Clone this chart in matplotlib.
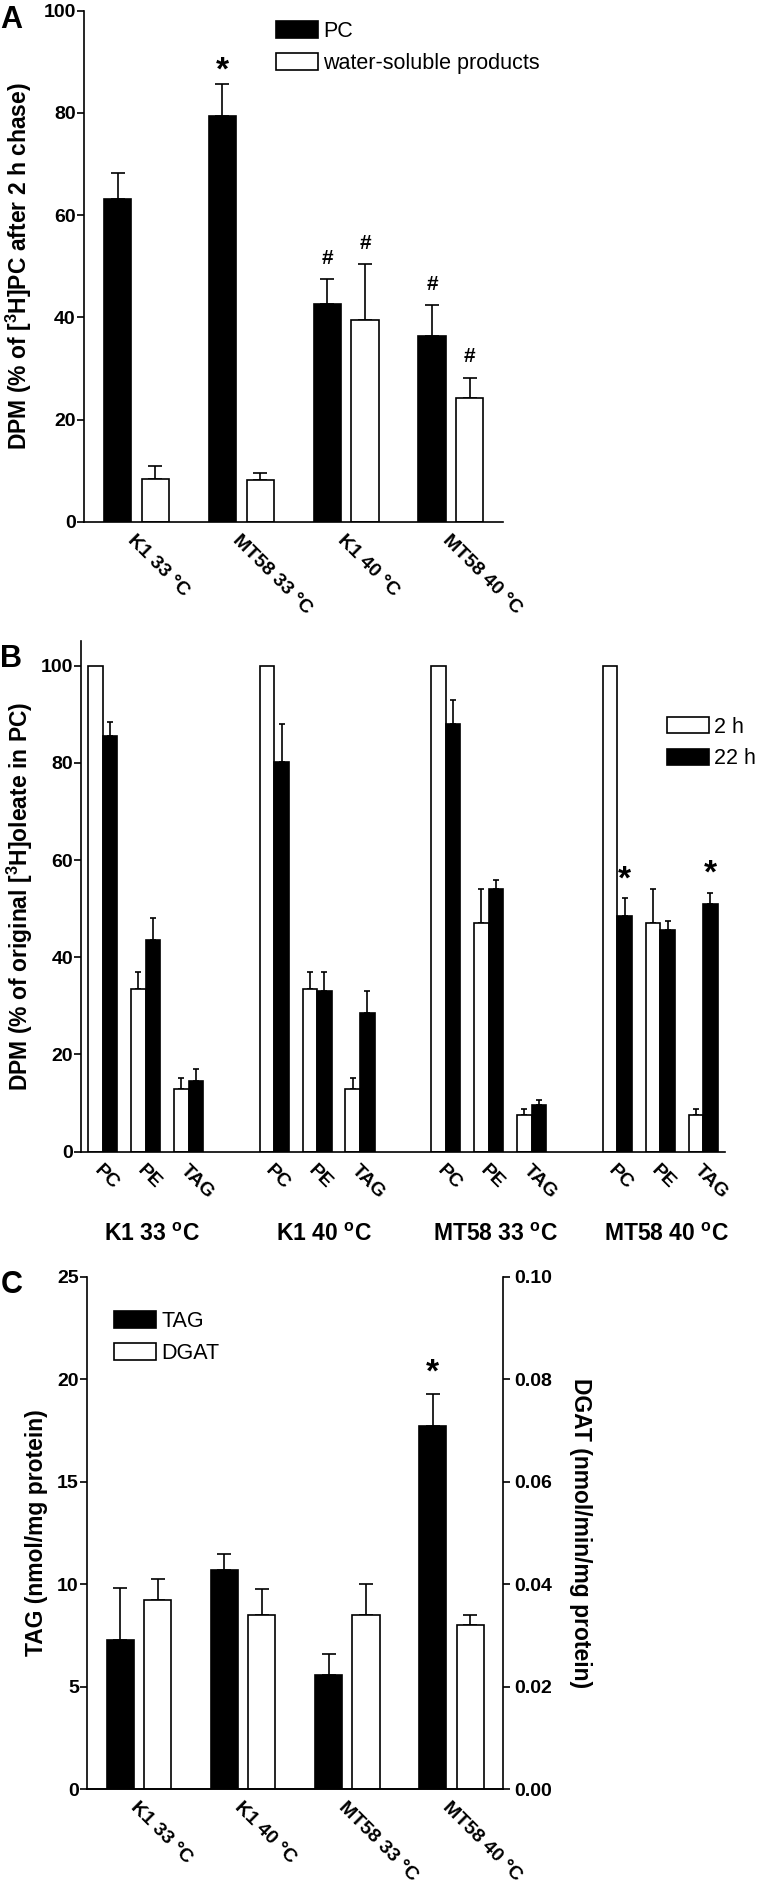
import numpy as np
import matplotlib.pyplot as plt

plt.rcParams['font.family'] = ['Liberation Sans', 'DejaVu Sans']
plt.rcParams['font.weight'] = 'bold'
plt.rcParams['axes.labelweight'] = 'bold'
plt.rcParams['mathtext.fontset'] = 'custom'
plt.rcParams['mathtext.rm'] = 'Liberation Sans:bold'
plt.rcParams['mathtext.bf'] = 'Liberation Sans:bold'
plt.rcParams['axes.linewidth'] = 1.2

# panel A: fate of labelled PC
groups_a = ['K1 33 °C', 'MT58 33 °C', 'K1 40 °C', 'MT58 40 °C']
pc_a = [63.2, 79.4, 42.6, 36.3]
pc_a_err = [5.0, 6.2, 4.9, 6.1]
ws_a = [8.4, 8.3, 39.6, 24.3]
ws_a_err = [2.6, 1.2, 10.8, 3.9]
marks_a = [('*', 'pc', 1), ('#', 'pc', 2), ('#', 'ws', 2), ('#', 'pc', 3), ('#', 'ws', 3)]

# panel B: oleate redistribution, groups x lipids (PC, PE, TAG)
groups_b = ['K1 33 $^{\\mathrm{o}}$C', 'K1 40 $^{\\mathrm{o}}$C',
            'MT58 33 $^{\\mathrm{o}}$C', 'MT58 40 $^{\\mathrm{o}}$C']
lipids_b = ['PC', 'PE', 'TAG']
h2_b = [100, 33.5, 13.0, 100, 33.5, 13.0, 100, 47.1, 7.5, 100, 47.1, 7.5]
h2_b_err = [0, 3.5, 2.1, 0, 3.5, 2.1, 0, 7.0, 1.2, 0, 7.0, 1.2]
h22_b = [85.5, 43.6, 14.6, 80.1, 33.1, 28.6, 88.0, 54.0, 9.6, 48.6, 45.6, 51.0]
h22_b_err = [3.0, 4.4, 2.4, 7.9, 3.9, 4.5, 4.9, 2.0, 1.0, 3.5, 1.9, 2.2]
stars_b = [9, 11]

# panel C: TAG mass and DGAT activity
groups_c = ['K1 33 °C', 'K1 40 °C', 'MT58 33 °C', 'MT58 40 °C']
tag_c = [7.3, 10.7, 5.6, 17.7]
tag_c_err = [2.5, 0.8, 1.0, 1.6]
dgat_c = [0.037, 0.034, 0.034, 0.032]
dgat_c_err = [0.004, 0.005, 0.006, 0.002]
stars_c = [3]

W, H = 759, 1886


def frame(x0, top, x1, bottom):
    return [x0 / W, 1 - bottom / H, (x1 - x0) / W, (bottom - top) / H]


def style_axis(ax):
    ax.spines['top'].set_visible(False)
    ax.spines['right'].set_visible(False)
    ax.tick_params(axis='y', direction='out', length=5, width=1.2, pad=1, labelsize=14)
    ax.tick_params(axis='x', length=0, pad=7, labelsize=14)


leg_kw = dict(frameon=False, borderpad=0, borderaxespad=0, handlelength=1.95,
              handleheight=0.8, handletextpad=0.25, labelspacing=0.5,
              prop={'size': 15.5, 'weight': 'normal'}, loc='upper left')

fig = plt.figure(figsize=(W / 100, H / 100), dpi=100)

# ---------- A ----------
axA = fig.add_axes(frame(84, 10.7, 503.4, 522))
x = np.arange(len(groups_a))
off, bw = 0.18, 0.26
axA.bar(x - off, pc_a, bw, color='black', edgecolor='black', lw=1.2, label='PC', zorder=2)
axA.bar(x + off, ws_a, bw, color='white', edgecolor='black', lw=1.2,
        label='water-soluble products', zorder=2)
axA.errorbar(x - off, pc_a, yerr=[np.zeros(4), pc_a_err], fmt='none', ecolor='black',
             elinewidth=1.2, capsize=4.7, capthick=1.2, zorder=1)
axA.errorbar(x + off, ws_a, yerr=[np.zeros(4), ws_a_err], fmt='none', ecolor='black',
             elinewidth=1.2, capsize=4.7, capthick=1.2, zorder=1)
for sym, ser, g in marks_a:
    if ser == 'pc':
        xp, top = g - off, pc_a[g] + pc_a_err[g]
    else:
        xp, top = g + off, ws_a[g] + ws_a_err[g]
    if sym == '*':
        axA.annotate(sym, (xp, top), xytext=(0, 9.5), textcoords='offset points',
                     ha='center', va='center', fontsize=24)
    else:
        axA.annotate(sym, (xp, top), xytext=(0, 15), textcoords='offset points',
                     ha='center', va='center', fontsize=15)
axA.set_xlim(-0.5, 3.5)
axA.set_ylim(0, 100)
axA.set_yticks(np.arange(0, 101, 20))
axA.set_xticks(x)
axA.set_xticklabels(groups_a, rotation=-45, ha='left', va='top', rotation_mode='anchor')
style_axis(axA)
axA.set_ylabel('DPM (% of [$^{3}$H]PC after 2 h chase)', fontsize=16.5)
axA.yaxis.set_label_coords(-0.119, 0.5)
axA.legend(bbox_to_anchor=(275.9 / W, 1 - 21 / H), bbox_transform=fig.transFigure, **leg_kw)

# ---------- B ----------
axB = fig.add_axes(frame(81.3, 1151.7 - 105 * 4.86, 724.6, 1151.7))
pos = np.array([4 * g + i for g in range(len(groups_b)) for i in range(len(lipids_b))])
ob, wb = 0.17, 0.34
h2 = np.array(h2_b)
h2e = np.array(h2_b_err)
axB.bar(pos - ob, h2_b, wb, color='white', edgecolor='black', lw=1.2, label='2 h', zorder=2)
axB.bar(pos + ob, h22_b, wb, color='black', edgecolor='black', lw=1.2, label='22 h', zorder=2)
m = h2e > 0
axB.errorbar(pos[m] - ob, h2[m], yerr=[np.zeros(m.sum()), h2e[m]], fmt='none',
             ecolor='black', elinewidth=1.2, capsize=2.4, capthick=1.2, zorder=1)
axB.errorbar(pos + ob, h22_b, yerr=[np.zeros(len(pos)), h22_b_err], fmt='none',
             ecolor='black', elinewidth=1.2, capsize=2.4, capthick=1.2, zorder=1)
for i in stars_b:
    axB.annotate('*', (pos[i] + ob, h22_b[i] + h22_b_err[i]), xytext=(0, 13.5),
                 textcoords='offset points', ha='center', va='center', fontsize=24)
axB.set_xlim(-0.5, 14.5)
axB.set_ylim(0, 105)
axB.set_yticks(np.arange(0, 101, 20))
axB.set_xticks(pos)
axB.set_xticklabels(lipids_b * len(groups_b), rotation=-45, ha='left', va='top',
                    rotation_mode='anchor')
style_axis(axB)
for g, name in enumerate(groups_b):
    axB.text(4 * g + 1.15, -0.163, name, transform=axB.get_xaxis_transform(),
             ha='center', va='center', fontsize=16.5)
axB.set_ylabel('DPM (% of original [$^{3}$H]oleate in PC)', fontsize=16.5)
axB.yaxis.set_label_coords(-0.072, 0.5)
axB.legend(bbox_to_anchor=(667 / W, 1 - 716.7 / H), bbox_transform=fig.transFigure, **leg_kw)

# ---------- C ----------
axC = fig.add_axes(frame(87.1, 1276.7, 503.4, 1789.4))
axC2 = axC.twinx()
x = np.arange(len(groups_c))
b1 = axC.bar(x - off, tag_c, bw, color='black', edgecolor='black', lw=1.2, label='TAG', zorder=2)
b2 = axC2.bar(x + off, dgat_c, bw, color='white', edgecolor='black', lw=1.2, label='DGAT', zorder=2)
axC.errorbar(x - off, tag_c, yerr=[np.zeros(4), tag_c_err], fmt='none', ecolor='black',
             elinewidth=1.2, capsize=4.7, capthick=1.2, zorder=1)
axC2.errorbar(x + off, dgat_c, yerr=[np.zeros(4), dgat_c_err], fmt='none', ecolor='black',
              elinewidth=1.2, capsize=4.7, capthick=1.2, zorder=1)
for i in stars_c:
    axC.annotate('*', (i - off, tag_c[i] + tag_c_err[i]), xytext=(0, 14.5),
                 textcoords='offset points', ha='center', va='center', fontsize=24)
axC.set_xlim(-0.5, 3.5)
axC.set_ylim(0, 25)
axC.set_yticks(np.arange(0, 26, 5))
axC2.set_ylim(0, 0.1)
axC2.set_yticks(np.arange(0, 0.101, 0.02))
axC2.set_yticklabels(['%.2f' % v for v in np.arange(0, 0.101, 0.02)])
axC.set_xticks(x)
axC.set_xticklabels(groups_c, rotation=-45, ha='left', va='top', rotation_mode='anchor')
style_axis(axC)
axC2.spines['top'].set_visible(False)
axC2.spines['left'].set_visible(False)
axC2.tick_params(axis='y', direction='out', length=5, width=1.2, pad=3, labelsize=14)
axC.set_ylabel('TAG (nmol/mg protein)', fontsize=16.5)
axC.yaxis.set_label_coords(-0.093, 0.5)
axC2.set_ylabel('DGAT (nmol/min/mg protein)', fontsize=16.5, rotation=270, va='bottom')
axC2.yaxis.set_label_coords(1.157, 0.5)
axC2.legend([b1, b2], ['TAG', 'DGAT'], bbox_to_anchor=(113.7 / W, 1 - 1311 / H),
            bbox_transform=fig.transFigure, **leg_kw)

# panel letters
for letter, base in [('A', 28.3), ('B', 666.7), ('C', 1293.3)]:
    fig.text(0.5 / W, 1 - base / H, letter, fontsize=22, fontweight='bold',
             ha='left', va='baseline')

fig.savefig('out.png', dpi=100)
